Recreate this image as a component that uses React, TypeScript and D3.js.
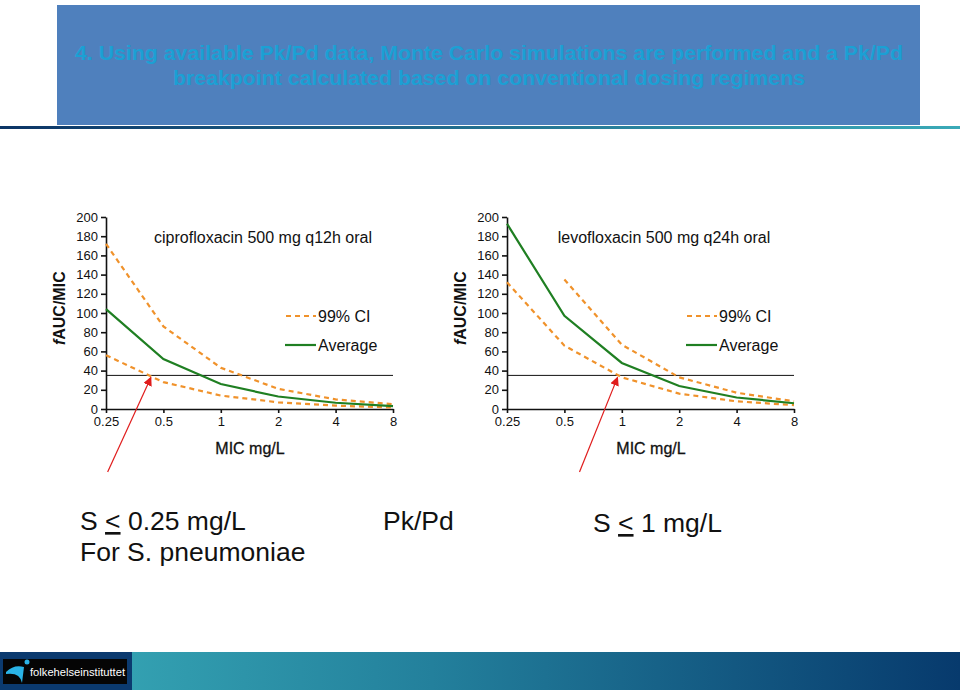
import React, { useEffect, useRef } from "react";
import * as d3 from "d3";

// MIC values (x) shared by both panels
const micValues = [0.25, 0.5, 1, 2, 4, 8];
const yTicks = [0, 20, 40, 60, 80, 100, 120, 140, 160, 180, 200];

// ciprofloxacin panel
const ciproAverage = [104, 52, 26, 13, 6.5, 3];
const ciproUpper = [172, 86, 43, 21, 10, 5];
const ciproLower = [56, 28, 14, 7, 3.5, 1.5];

// levofloxacin panel (upper CI is off the chart at 0.25)
const levoAverage = [193, 97, 48, 24, 12, 6];
const levoUpper = [null, 135, 67, 33, 17, 8];
const levoLower = [132, 66, 33, 16, 8, 4];

const targetLine = 35;

const headerLines = [
    "4. Using available Pk/Pd data, Monte Carlo simulations are performed and a Pk/Pd",
    "breakpoint calculated based on conventional dosing regimens",
];

const panels = [
    {
        title: "ciprofloxacin 500 mg q12h oral",
        average: ciproAverage,
        upper: ciproUpper,
        lower: ciproLower,
        left: 106,
        arrowFrom: 0.255,
        arrowTo: 0.43,
    },
    {
        title: "levofloxacin 500 mg q24h oral",
        average: levoAverage,
        upper: levoUpper,
        lower: levoLower,
        left: 507,
        arrowFrom: 0.6,
        arrowTo: 0.95,
    },
];

const FONT = "Liberation Sans, Arial, Helvetica, sans-serif";
const ORANGE = "#f0922b";
const GREEN = "#1f7f22";

const App = () => {
    const svgRef = useRef(null);

    useEffect(() => {
        const svg = d3.select(svgRef.current);
        svg.selectAll("*").remove();

        const defs = svg.append("defs");
        const footGrad = defs.append("linearGradient").attr("id", "footGrad");
        footGrad.append("stop").attr("offset", "0%").attr("stop-color", "#3aaeba");
        footGrad.append("stop").attr("offset", "45%").attr("stop-color", "#23809c");
        footGrad.append("stop").attr("offset", "100%").attr("stop-color", "#073a6d");
        const ruleGrad = defs.append("linearGradient").attr("id", "ruleGrad");
        ruleGrad.append("stop").attr("offset", "0%").attr("stop-color", "#0c3566");
        ruleGrad.append("stop").attr("offset", "100%").attr("stop-color", "#3aaab8");
        defs.append("marker")
            .attr("id", "arrowHead")
            .attr("viewBox", "0 0 10 10")
            .attr("refX", 9)
            .attr("refY", 5)
            .attr("markerWidth", 9)
            .attr("markerHeight", 9)
            .attr("orient", "auto")
            .attr("markerUnits", "userSpaceOnUse")
            .append("path")
            .attr("d", "M0,0 L10,5 L0,10 z")
            .attr("fill", "#e01c1c");

        // header box
        svg.append("rect")
            .attr("x", 57).attr("y", 5).attr("width", 863).attr("height", 120)
            .attr("fill", "#4f80bd");
        svg.append("rect")
            .attr("x", 0).attr("y", 126).attr("width", 960).attr("height", 3)
            .attr("fill", "url(#ruleGrad)");
        headerLines.forEach((line, i) => {
            svg.append("text")
                .attr("x", 489)
                .attr("y", 60 + i * 25)
                .attr("text-anchor", "middle")
                .attr("font-family", "Liberation Sans Narrow, Liberation Sans, Arial, sans-serif")
                .attr("font-weight", "bold")
                .attr("font-size", 21)
                .attr("fill", "#1ba0d4")
                .attr("textLength", i === 0 ? 828 : 632)
                .attr("lengthAdjust", "spacingAndGlyphs")
                .text(line);
        });

        const y = d3.scaleLinear().domain([0, 200]).range([409, 217]);

        panels.forEach((p) => {
            const x = d3.scaleLog().base(2).domain([0.25, 8]).range([p.left, p.left + 287]);
            const g = svg.append("g");

            const yAxis = g.append("g")
                .attr("transform", `translate(${p.left},0)`)
                .call(d3.axisLeft(y).tickValues(yTicks).tickSize(5).tickSizeOuter(0).tickPadding(3));
            const xAxis = g.append("g")
                .attr("transform", `translate(0,409)`)
                .call(d3.axisBottom(x).tickValues(micValues).tickFormat((d) => `${d}`).tickSize(4).tickSizeOuter(0).tickPadding(4));
            [yAxis, xAxis].forEach((a) => {
                a.selectAll("text").attr("font-family", FONT).attr("font-size", 13).attr("fill", "#111");
                a.selectAll("line,path").attr("stroke", "#111").attr("stroke-width", 1.6);
            });

            // axis labels
            const yl = g.append("text")
                .attr("transform", `translate(${p.left - 41},${y(105)}) rotate(-90)`)
                .attr("text-anchor", "middle")
                .attr("font-family", FONT)
                .attr("font-weight", "bold")
                .attr("font-size", 16)
                .attr("fill", "#111");
            yl.append("tspan").attr("font-style", "italic").text("f");
            yl.append("tspan").text("AUC/MIC");
            g.append("text")
                .attr("x", p.left + 144).attr("y", 454)
                .attr("text-anchor", "middle")
                .attr("font-family", FONT)
                .attr("font-size", 16)
                .attr("fill", "#111")
                .attr("stroke", "#111").attr("stroke-width", 0.3)
                .text("MIC mg/L");

            g.append("text")
                .attr("x", p.left + 157).attr("y", 243)
                .attr("text-anchor", "middle")
                .attr("font-family", FONT)
                .attr("font-size", 16)
                .attr("fill", "#111")
                .text(p.title);

            // target line
            g.append("line")
                .attr("x1", p.left).attr("x2", p.left + 287)
                .attr("y1", y(targetLine)).attr("y2", y(targetLine))
                .attr("stroke", "#111").attr("stroke-width", 1);

            const line = d3.line()
                .defined((d) => d[1] !== null)
                .x((d) => x(d[0]))
                .y((d) => y(d[1]));
            const pts = (vals) => micValues.map((m, i) => [m, vals[i]]);

            [p.upper, p.lower].forEach((vals) => {
                g.append("path")
                    .attr("d", line(pts(vals)))
                    .attr("fill", "none")
                    .attr("stroke", ORANGE)
                    .attr("stroke-width", 2.2)
                    .attr("stroke-dasharray", "5,4");
            });
            g.append("path")
                .attr("d", line(pts(p.average)))
                .attr("fill", "none")
                .attr("stroke", GREEN)
                .attr("stroke-width", 2.2);

            // legend
            const lx = p.left + 180;
            g.append("line")
                .attr("x1", lx).attr("x2", lx + 30).attr("y1", 316).attr("y2", 316)
                .attr("stroke", ORANGE).attr("stroke-width", 2.2).attr("stroke-dasharray", "5,4");
            g.append("text")
                .attr("x", lx + 32).attr("y", 322)
                .attr("font-family", FONT).attr("font-size", 16).attr("fill", "#111")
                .text("99% CI");
            g.append("line")
                .attr("x1", lx - 1).attr("x2", lx + 30).attr("y1", 345).attr("y2", 345)
                .attr("stroke", GREEN).attr("stroke-width", 2.2);
            g.append("text")
                .attr("x", lx + 32).attr("y", 351)
                .attr("font-family", FONT).attr("font-size", 16).attr("fill", "#111")
                .text("Average");

            // red arrow pointing to the breakpoint
            g.append("line")
                .attr("x1", x(p.arrowFrom)).attr("y1", 472)
                .attr("x2", x(p.arrowTo)).attr("y2", y(targetLine) + 2)
                .attr("stroke", "#e01c1c").attr("stroke-width", 1.2)
                .attr("marker-end", "url(#arrowHead)");
        });

        // bottom text
        const bigText = (tx, ty, parts) => {
            const t = svg.append("text")
                .attr("x", tx).attr("y", ty)
                .attr("font-family", FONT).attr("font-size", 26.5).attr("fill", "#111");
            parts.forEach((s) => {
                const ts = t.append("tspan").text(s.text);
                if (s.under) ts.attr("text-decoration", "underline");
            });
        };
        bigText(80, 530, [{ text: "S " }, { text: "<", under: true }, { text: " 0.25 mg/L" }]);
        bigText(80, 561, [{ text: "For S. pneumoniae" }]);
        bigText(383, 530, [{ text: "Pk/Pd" }]);
        bigText(593, 532, [{ text: "S " }, { text: "<", under: true }, { text: " 1 mg/L" }]);

        // footer
        svg.append("rect").attr("x", 0).attr("y", 652).attr("width", 960).attr("height", 38).attr("fill", "url(#footGrad)");
        svg.append("rect").attr("x", 0).attr("y", 652).attr("width", 132).attr("height", 38).attr("fill", "#0b3a6f");
        svg.append("rect").attr("x", 3).attr("y", 659).attr("width", 124).attr("height", 25).attr("fill", "#050505");
        svg.append("path")
            .attr("d", "M6,672 Q14,664 24,667 L22,683 Q20,672 6,674 z")
            .attr("fill", "#2ab3e6");
        svg.append("circle").attr("cx", 27).attr("cy", 662).attr("r", 2.5).attr("fill", "#2ab3e6");
        svg.append("text")
            .attr("x", 30).attr("y", 676)
            .attr("font-family", FONT)
            .attr("font-size", 11).attr("fill", "#fff")
            .attr("textLength", 95)
            .attr("lengthAdjust", "spacingAndGlyphs")
            .text("folkehelseinstituttet");
    }, []);

    return (
        <svg
            ref={svgRef}
            width="960"
            height="690"
            style={{ position: "absolute", left: 0, top: 0, background: "#fff" }}
        ></svg>
    );
};

export default App;
